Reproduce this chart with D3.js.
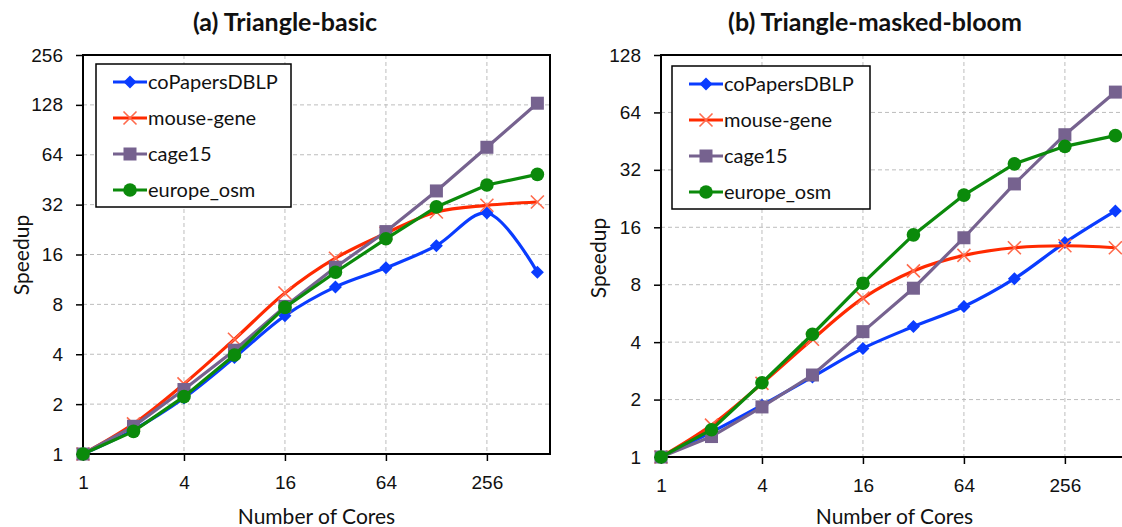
<!DOCTYPE html>
<html>
<head>
<meta charset="utf-8">
<script src="https://cdn.jsdelivr.net/npm/d3@7"></script>
<style>
  body { margin: 0; background: #fff; }
  svg { display: block; font-family: Lato, "Open Sans", sans-serif; }
  .tick text { font-size: 19px; fill: #111; }
  .grid line { stroke: #bdbdbd; stroke-dasharray: 4,3; }
</style>
</head>
<body>
<div id="chart"></div>
<script>
// x values (number of cores)
const cores = [1, 2, 4, 8, 16, 32, 64, 128, 256, 512];
const xTicks = [1, 4, 16, 64, 256];
const seriesNames = ["coPapersDBLP", "mouse-gene", "cage15", "europe_osm"];
const seriesColors = ["#0a3cff", "#ff2a00", "#76628f", "#0b8a0b"];

// (a) Triangle-basic
const basicCoPapers = [1, 1.40, 2.18, 3.82, 6.83, 10.2, 13.3, 18.1, 28.5, 12.5];
const basicMouse = [1, 1.52, 2.65, 4.93, 9.37, 15.2, 21.5, 28.9, 31.7, 33.2];
const basicCage = [1, 1.47, 2.45, 4.23, 7.78, 13.4, 22, 38.7, 71, 131];
const basicEurope = [1, 1.37, 2.22, 3.96, 7.67, 12.5, 19.9, 31, 42, 48.7];
const basicYTicks = [1, 2, 4, 8, 16, 32, 64, 128, 256];

// (b) Triangle-masked-bloom
const bloomCoPapers = [1, 1.35, 1.87, 2.63, 3.71, 4.83, 6.15, 8.6, 13.3, 19.5];
const bloomMouse = [1, 1.47, 2.43, 4.14, 6.8, 9.45, 11.4, 12.5, 12.8, 12.5];
const bloomCage = [1, 1.28, 1.83, 2.69, 4.54, 7.67, 14.1, 27, 48.9, 81.8];
const bloomEurope = [1, 1.39, 2.45, 4.4, 8.15, 14.6, 23.6, 34.4, 42.5, 48.4];
const bloomYTicks = [1, 2, 4, 8, 16, 32, 64, 128];

const svg = d3.select("#chart").append("svg")
  .attr("width", 1122).attr("height", 527);

function marker(g, type, color) {
  if (type == 0) {
    g.append("path").attr("d", "M0,-6.5L6.5,0L0,6.5L-6.5,0Z").attr("fill", color);
  } else if (type == 1) {
    g.append("path").attr("d", "M-6.5,-6.5L6.5,6.5M-6.5,6.5L6.5,-6.5")
      .attr("stroke", "#ff6a4c").attr("stroke-width", 1.6).attr("fill", "none");
  } else if (type == 2) {
    g.append("rect").attr("x", -6.5).attr("y", -6.5).attr("width", 13).attr("height", 13).attr("fill", color);
  } else {
    g.append("circle").attr("r", 6.8).attr("fill", color);
  }
}

function drawPanel(cfg) {
  const x = d3.scaleLog().base(2).domain([1, Math.pow(2, 9.25)]).range([cfg.left, cfg.right]);
  const y = d3.scaleLog().base(2).domain([1, cfg.yMax]).range([cfg.bottom, cfg.top]);
  const g = svg.append("g");

  // grid
  g.append("g").attr("class", "grid")
    .selectAll("line.h").data(cfg.yTicks.filter(d => d > 1 && d < cfg.yMax)).enter()
    .append("line")
    .attr("x1", cfg.left).attr("x2", cfg.right)
    .attr("y1", d => y(d)).attr("y2", d => y(d));
  g.append("g").attr("class", "grid")
    .selectAll("line.v").data(xTicks.filter(d => d > 1)).enter()
    .append("line")
    .attr("x1", d => x(d)).attr("x2", d => x(d))
    .attr("y1", cfg.top).attr("y2", cfg.bottom);

  // axes
  const yAxis = g.append("g").attr("transform", `translate(${cfg.left},0)`)
    .call(d3.axisLeft(y).tickValues(cfg.yTicks).tickFormat(d3.format("d")).tickSize(7).tickPadding(13));
  const xAxis = g.append("g").attr("transform", `translate(0,${cfg.bottom})`)
    .call(d3.axisBottom(x).tickValues(xTicks).tickFormat(d3.format("d")).tickSize(7).tickPadding(15));
  [yAxis, xAxis].forEach(a => {
    a.select(".domain").remove();
    a.selectAll(".tick line").attr("stroke", "#000").attr("stroke-width", 1.5);
  });

  // frame
  g.append("rect")
    .attr("x", cfg.left).attr("y", cfg.top)
    .attr("width", cfg.right - cfg.left).attr("height", cfg.bottom - cfg.top)
    .attr("fill", "none").attr("stroke", "#000").attr("stroke-width", 2);

  // series
  cfg.series.forEach((vals, i) => {
    const smooth = (i == 0 || i == 1);
    const line = d3.line()
      .x((d, k) => x(cores[k]))
      .y(d => y(d))
      .curve(smooth ? d3.curveCatmullRom.alpha(0.5) : d3.curveLinear);
    g.append("path").datum(vals)
      .attr("d", line)
      .attr("fill", "none")
      .attr("stroke", seriesColors[i])
      .attr("stroke-width", 3.2);
    vals.forEach((v, k) => {
      const m = g.append("g").attr("transform", `translate(${x(cores[k])},${y(v)})`);
      marker(m, i, seriesColors[i]);
    });
  });

  // legend
  const lg = g.append("g").attr("transform", `translate(${cfg.legendX},${cfg.legendY})`);
  lg.append("rect").attr("width", cfg.legendW).attr("height", 143)
    .attr("fill", "#fff").attr("stroke", "#000").attr("stroke-width", 1.5);
  seriesNames.forEach((name, i) => {
    const row = lg.append("g").attr("transform", `translate(0,${18 + i * 36})`);
    row.append("line").attr("x1", 17).attr("x2", 51)
      .attr("stroke", seriesColors[i]).attr("stroke-width", 3.2);
    const m = row.append("g").attr("transform", "translate(34,0)");
    marker(m, i, seriesColors[i]);
    row.append("text").attr("x", 52).attr("y", 7)
      .attr("font-size", 20).attr("fill", "#111").text(name);
  });

  // titles
  svg.append("text")
    .attr("x", cfg.titleX).attr("y", 31)
    .attr("text-anchor", "middle")
    .attr("font-size", 25).attr("font-weight", "bold").attr("fill", "#111")
    .text(cfg.title);
  svg.append("text")
    .attr("x", (cfg.left + cfg.right) / 2).attr("y", 524)
    .attr("text-anchor", "middle")
    .attr("font-size", 21).attr("fill", "#111")
    .text("Number of Cores");
  svg.append("text")
    .attr("transform", `translate(${cfg.yLabelX},${cfg.yLabelY}) rotate(-90)`)
    .attr("text-anchor", "middle")
    .attr("font-size", 21).attr("fill", "#111")
    .text("Speedup");
}

drawPanel({
  title: "(a) Triangle-basic", titleX: 285,
  left: 83, right: 550, top: 55, bottom: 454,
  yMax: 256, yTicks: basicYTicks,
  series: [basicCoPapers, basicMouse, basicCage, basicEurope],
  legendX: 96, legendY: 64, legendW: 195,
  yLabelX: 29, yLabelY: 255
});

drawPanel({
  title: "(b) Triangle-masked-bloom", titleX: 875,
  left: 661, right: 1128, top: 55, bottom: 457,
  yMax: 128, yTicks: bloomYTicks,
  series: [bloomCoPapers, bloomMouse, bloomCage, bloomEurope],
  legendX: 672, legendY: 66, legendW: 198,
  yLabelX: 606, yLabelY: 258
});
</script>
</body>
</html>
